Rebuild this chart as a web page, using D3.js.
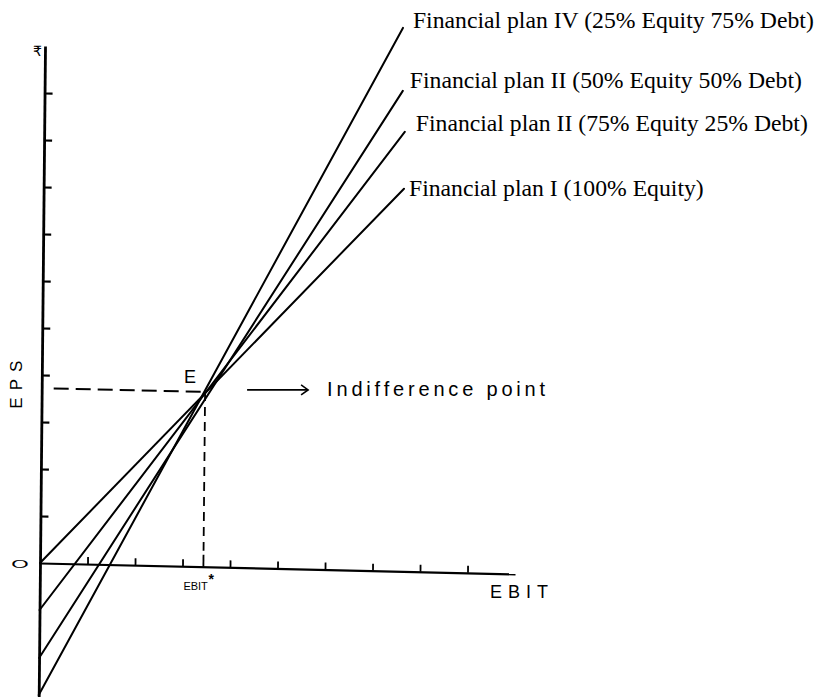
<!DOCTYPE html>
<html>
<head>
<meta charset="utf-8">
<script src="https://cdn.jsdelivr.net/npm/d3@7/dist/d3.min.js"></script>
<style>
  html, body { margin: 0; padding: 0; background: #fff; }
  svg { display: block; }
</style>
</head>
<body>
<svg id="chart" width="820" height="697"></svg>
<script>
// EBIT–EPS analysis: four financing plans crossing at the indifference point

const planNames = [
  "Financial plan I (100% Equity)",
  "Financial plan II (75% Equity 25% Debt)",
  "Financial plan II (50% Equity 50% Debt)",
  "Financial plan IV (25% Equity 75% Debt)"
];
// EPS where each plan meets the EPS axis (EBIT = 0)
const epsAtZeroEbit = [0, -1.0, -2.02, -2.81];
// far end of each plan line
const ebitAtEnd = [7.585, 7.59, 7.54, 7.53];
const epsAtEnd = [8.14, 9.35, 10.22, 11.56];

const indifferenceEbit = 3.44;
const indifferenceEps = 3.72;

const ebitTicks = [1, 2, 3, 4, 5, 6, 7, 8, 9];
const epsTicks = [1, 2, 3, 4, 5, 6, 7, 8, 9, 10];
const ebitMax = 10;
const epsMax = 11;
const epsMin = -2.85;

// ---- layout ----
const svg = d3.select("#chart");
svg.append("rect").attr("width", 820).attr("height", 697).attr("fill", "#fff");

const x = d3.scaleLinear().domain([0, ebitMax]).range([40, 515]);
const y = d3.scaleLinear().domain([0, epsMax]).range([563, 46]);
const yAxisScale = y.copy().domain([epsMin, epsMax]).range([y(epsMin), y(epsMax)]);

// the hand-ruled axes lean slightly; a small shear reproduces that
const shearX = -0.0097, shearY = 0.023;
const ox = x(0), oy = y(0);
const sk = (px, py) => [px + shearX * (py - oy), py + shearY * (px - ox)];

const plot = svg.append("g")
  .attr("transform", `matrix(1,${shearY},${shearX},1,${-shearX * oy},${-shearY * ox})`);

// EPS axis with ticks on the inside
const yAxisG = plot.append("g")
  .attr("transform", `translate(${ox},0)`)
  .call(d3.axisRight(yAxisScale).tickValues(epsTicks).tickSize(8).tickSizeOuter(0).tickFormat(""));
yAxisG.select(".domain").attr("stroke", "#000").attr("stroke-width", 2.8);
yAxisG.selectAll(".tick line").attr("stroke", "#000").attr("stroke-width", 2.2);

// EBIT axis with ticks pointing up
const xAxisG = plot.append("g")
  .attr("transform", `translate(0,${oy})`)
  .call(d3.axisTop(x).tickValues(ebitTicks).tickSize(7).tickSizeOuter(0).tickFormat(""));
xAxisG.select(".domain").attr("stroke", "#000").attr("stroke-width", 2.2);
xAxisG.selectAll(".tick line").attr("stroke", "#000").attr("stroke-width", 1.8);

// plan lines
plot.selectAll("line.plan")
  .data(d3.range(planNames.length))
  .join("line")
  .attr("class", "plan")
  .attr("x1", x(0))
  .attr("y1", i => y(epsAtZeroEbit[i]))
  .attr("x2", i => x(ebitAtEnd[i]))
  .attr("y2", i => y(epsAtEnd[i]))
  .attr("stroke", "#000")
  .attr("stroke-width", 2)
  .attr("stroke-linecap", "round");

// dashed guides to the indifference point
plot.append("line")
  .attr("x1", x(0) + 12).attr("y1", y(indifferenceEps))
  .attr("x2", x(indifferenceEbit)).attr("y2", y(indifferenceEps))
  .attr("stroke", "#000").attr("stroke-width", 2)
  .attr("stroke-dasharray", "15,7");
plot.append("line")
  .attr("x1", x(indifferenceEbit)).attr("y1", y(indifferenceEps))
  .attr("x2", x(indifferenceEbit)).attr("y2", y(0) - 16)
  .attr("stroke", "#000").attr("stroke-width", 1.8)
  .attr("stroke-dasharray", "9,6");
plot.append("line")
  .attr("x1", x(indifferenceEbit)).attr("y1", y(0) - 12)
  .attr("x2", x(indifferenceEbit)).attr("y2", y(0))
  .attr("stroke", "#000").attr("stroke-width", 1.8);

// ---- text ----
const hand = "'Liberation Sans', 'DejaVu Sans', sans-serif";
const [ex, ey] = sk(x(indifferenceEbit), y(indifferenceEps));

// plan labels at the ends of the lines
const labelNudge = [[5, 7], [11, -1], [7, -3], [10, 0]];
svg.selectAll("text.plan")
  .data(d3.range(planNames.length))
  .join("text")
  .attr("class", "plan")
  .attr("x", i => sk(x(ebitAtEnd[i]), y(epsAtEnd[i]))[0] + labelNudge[i][0])
  .attr("y", i => sk(x(ebitAtEnd[i]), y(epsAtEnd[i]))[1] + labelNudge[i][1])
  .attr("font-family", "'Liberation Serif', 'Times New Roman', serif")
  .attr("font-size", 23.7)
  .attr("fill", "#000")
  .text(i => planNames[i]);

// point E
svg.append("text")
  .attr("x", ex - 21).attr("y", ey - 9)
  .attr("font-family", hand).attr("font-size", 18).attr("fill", "#000")
  .text("E");

// arrow to the caption
const ay = ey - 2;
svg.append("line")
  .attr("x1", ex + 42).attr("y1", ay).attr("x2", ex + 103).attr("y2", ay)
  .attr("stroke", "#000").attr("stroke-width", 1.6);
svg.append("polyline")
  .attr("points", `${ex + 96},${ay - 5} ${ex + 103},${ay} ${ex + 96},${ay + 5}`)
  .attr("fill", "none").attr("stroke", "#000").attr("stroke-width", 1.6);
svg.append("text")
  .attr("x", ex + 122).attr("y", ay + 6)
  .attr("font-family", hand).attr("font-size", 20).attr("fill", "#000")
  .attr("textLength", 218).attr("lengthAdjust", "spacing")
  .text("Indifference point");

// axis titles
svg.append("text")
  .attr("transform", `translate(${ox - 18},${y(indifferenceEps) - 7}) rotate(-90)`)
  .attr("text-anchor", "middle")
  .attr("font-family", hand).attr("font-size", 17).attr("letter-spacing", 7)
  .attr("fill", "#000")
  .text("EPS");

const [bx, by] = sk(x(ebitMax), y(0));
svg.append("text")
  .attr("x", bx - 25).attr("y", by + 24)
  .attr("font-family", hand).attr("font-size", 18).attr("letter-spacing", 6)
  .attr("fill", "#000")
  .text("EBIT");

const [sx, sy] = sk(x(indifferenceEbit), y(0));
svg.append("text")
  .attr("x", sx - 20).attr("y", sy + 23)
  .attr("font-family", hand).attr("font-size", 11).attr("fill", "#000")
  .text("EBIT");
svg.append("text")
  .attr("x", sx + 5).attr("y", sy + 17)
  .attr("font-family", hand).attr("font-size", 14).attr("font-weight", "bold").attr("fill", "#000")
  .text("*");

// origin and currency marks
svg.append("text")
  .attr("transform", `translate(${ox - 20},${oy + 5}) scale(1.6,0.8)`)
  .attr("text-anchor", "middle")
  .attr("font-family", hand).attr("font-size", 14).attr("fill", "#000")
  .text("O");

const [tx, ty] = sk(x(0), y(epsMax));
svg.append("text")
  .attr("x", tx - 12).attr("y", ty + 10)
  .attr("font-family", hand).attr("font-size", 14).attr("fill", "#000")
  .text("₹");
</script>
</body>
</html>
